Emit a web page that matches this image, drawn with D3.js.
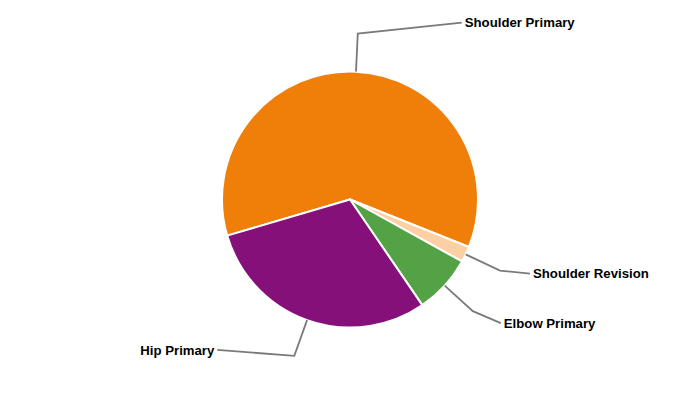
<!DOCTYPE html>
<html><head><meta charset="utf-8">
<script src="https://cdn.jsdelivr.net/npm/d3@7"></script>
<style>html,body{margin:0;padding:0;background:#fff;}svg{display:block;}</style>
</head><body>
<svg id="chart" width="700" height="400"></svg>
<script>
const categories = ["Shoulder Primary", "Shoulder Revision", "Elbow Primary", "Hip Primary"];
const values = [60.6, 2.0, 7.4, 30.0];
const colors = ["#F07F09", "#FCCFA4", "#53A245", "#86107A"];

// layout
const cx = 350, cy = 199.5, R = 128, Rout = 166;
const startDeg = -106.4;
const labelOffsets = [[104, -11], [30, 3], [28, 12], [-77, -6]];

const svg = d3.select("#chart");
const g = svg.append("g").attr("transform", `translate(${cx},${cy})`);

const data = categories.map((c, i) => ({cat: c, value: values[i], color: colors[i], off: labelOffsets[i]}));
const pie = d3.pie().value(d => d.value).sort(null)
  .startAngle(startDeg * Math.PI / 180)
  .endAngle(startDeg * Math.PI / 180 + 2 * Math.PI);
const arcs = pie(data);
const arc = d3.arc().innerRadius(0).outerRadius(R);

g.selectAll("path.slice").data(arcs).join("path")
  .attr("class", "slice")
  .attr("d", arc)
  .attr("fill", d => d.data.color)
  .attr("stroke", "#fff")
  .attr("stroke-width", 2)
  .attr("stroke-linejoin", "round");

function pt(a, r) { return [r * Math.sin(a), -r * Math.cos(a)]; }

arcs.forEach(d => {
  const m = (d.startAngle + d.endAngle) / 2;
  const p1 = pt(m, R);
  const p2 = pt(m, Rout);
  const p3 = [p2[0] + d.data.off[0], p2[1] + d.data.off[1]];
  g.append("polyline")
    .attr("points", [p1, p2, p3].map(p => p.join(",")).join(" "))
    .attr("fill", "none")
    .attr("stroke", "#7a7a7a")
    .attr("stroke-width", 1.8);
  const right = d.data.off[0] > 0;
  g.append("text")
    .attr("x", p3[0] + (right ? 3 : -3))
    .attr("y", p3[1])
    .attr("dy", "0.35em")
    .attr("text-anchor", right ? "start" : "end")
    .attr("font-family", "Liberation Sans, Arial, sans-serif")
    .attr("font-weight", "bold")
    .attr("font-size", 13.2)
    .attr("fill", "#000")
    .text(d.data.cat);
});
</script>
</body></html>
